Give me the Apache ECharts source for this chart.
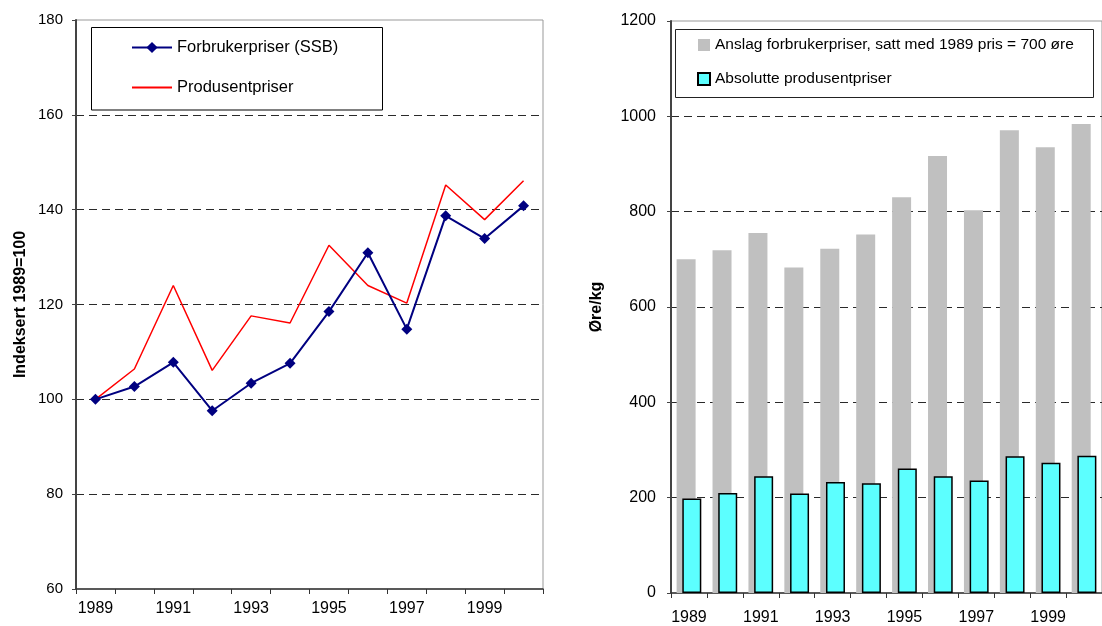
<!DOCTYPE html>
<html><head><meta charset="utf-8">
<script src="https://cdn.jsdelivr.net/npm/echarts@6/dist/echarts.min.js"></script>
<style>html,body{margin:0;padding:0;background:#fff}#c{width:1102px;height:626px}</style>
</head><body><div id="c"></div>
<script>
// ---- data ----
const years = ['1989','1990','1991','1992','1993','1994','1995','1996','1997','1998','1999','2000'];
const forbrukerIndex = [100, 102.7, 107.8, 97.6, 103.4, 107.6, 118.5, 130.9, 114.8, 138.7, 133.9, 140.8];
const produsentIndex = [100, 106.4, 124.0, 106.1, 117.6, 116.1, 132.5, 124.0, 120.3, 145.2, 137.9, 146.1];
const anslagForbruker = [700, 719, 755, 683, 722, 752, 830, 917, 803, 971, 935, 984];
const absoluttProdusent = [198, 210, 245, 209, 233, 230, 261, 245, 236, 287, 273, 288];
const leftName = 'Indeksert 1989=100';
const rightName = 'Øre/kg';
const names = ['Forbrukerpriser (SSB)', 'Produsentpriser', 'Anslag forbrukerpriser, satt med 1989 pris = 700 øre', 'Absolutte produsentpriser'];

const FONT = '"Liberation Sans", Arial, sans-serif';
const chart = echarts.init(document.getElementById('c'), null, {renderer: 'canvas'});

function catAxis(gi, fs, margin) {
  return {
    type: 'category', gridIndex: gi, data: years, boundaryGap: true,
    axisLine: {show: true, lineStyle: {color: '#333', width: 1.5}},
    axisTick: {show: true, interval: 0, length: 5, lineStyle: {color: '#333'}},
    axisLabel: {interval: 1, color: '#000', fontFamily: FONT, fontSize: fs, margin: margin},
    splitLine: {show: false}
  };
}
function valAxis(gi, min, max, interval, name, gap, fs, margin) {
  return {
    type: 'value', gridIndex: gi, min: min, max: max, interval: interval,
    name: name, nameLocation: 'middle', nameRotate: 90, nameGap: gap,
    nameTextStyle: {fontFamily: FONT, fontWeight: 'bold', fontSize: 16, color: '#000'},
    axisLine: {show: true, lineStyle: {color: '#444', width: 2}},
    axisTick: {show: true, length: 4, lineStyle: {color: '#444'}},
    axisLabel: {color: '#000', fontFamily: FONT, fontSize: fs, margin: margin,
      formatter: function (v) { return String(v); }},
    splitLine: {show: true, showMinLine: false, showMaxLine: false,
      lineStyle: {color: '#2a2a2a', width: 1, type: [8, 5]}}
  };
}

const option = {
  animation: false,
  backgroundColor: '#fff',
  grid: [
    {left: 76, top: 20, width: 467, height: 569, show: true, borderColor: '#999', borderWidth: 1},
    {left: 671, top: 21, width: 440, height: 573, show: true, borderColor: '#999', borderWidth: 1}
  ],
  xAxis: [catAxis(0, 16, 12), catAxis(1, 16, 17)],
  yAxis: [
    valAxis(0, 60, 180, 20, leftName, 47, 15, 13),
    valAxis(1, 0, 1200, 200, rightName, 66, 16, 15)
  ],
  legend: [
    {data: [names[0], {name: names[1], itemStyle: {opacity: 0}}], orient: 'vertical', left: 131, top: 39, padding: 0,
     itemWidth: 40, itemHeight: 14, itemGap: 23,
     textStyle: {fontFamily: FONT, fontSize: 16.5, lineHeight: 16, color: '#000'}},
    {data: [names[2], names[3]], orient: 'vertical', left: 697, top: 37, padding: 0,
     itemWidth: 12, itemHeight: 12, itemGap: 18, icon: 'rect',
     textStyle: {fontFamily: FONT, fontSize: 15.5, lineHeight: 15, color: '#000'}}
  ],
  graphic: [
    {type: 'rect', shape: {x: 91.5, y: 27.5, width: 291, height: 82.5},
     style: {fill: '#fff', stroke: '#000', lineWidth: 1}, z: 1},
    {type: 'rect', shape: {x: 675.5, y: 29.5, width: 418, height: 68},
     style: {fill: '#fff', stroke: '#222', lineWidth: 1}, z: 1}
  ],
  series: [
    {name: names[0], type: 'line', xAxisIndex: 0, yAxisIndex: 0, data: forbrukerIndex,
     color: '#000080', symbol: 'diamond', symbolSize: 11, showAllSymbol: true,
     lineStyle: {color: '#000080', width: 2}, itemStyle: {color: '#000080'}, z: 3},
    {name: names[1], type: 'line', xAxisIndex: 0, yAxisIndex: 0, data: produsentIndex,
     color: '#FF0000', symbol: 'none', lineStyle: {color: '#FF0000', width: 1.5}, z: 2},
    {name: names[2], type: 'bar', xAxisIndex: 1, yAxisIndex: 1, data: anslagForbruker,
     barWidth: 19, barGap: '-70%', itemStyle: {color: '#C0C0C0'}, z: 2},
    {name: names[3], type: 'bar', xAxisIndex: 1, yAxisIndex: 1, data: absoluttProdusent,
     barWidth: 19, barGap: '-70%', itemStyle: {color: '#5CFFFF', borderColor: '#000', borderWidth: 1.5}, z: 3}
  ]
};
chart.setOption(option);
</script>
</body></html>
